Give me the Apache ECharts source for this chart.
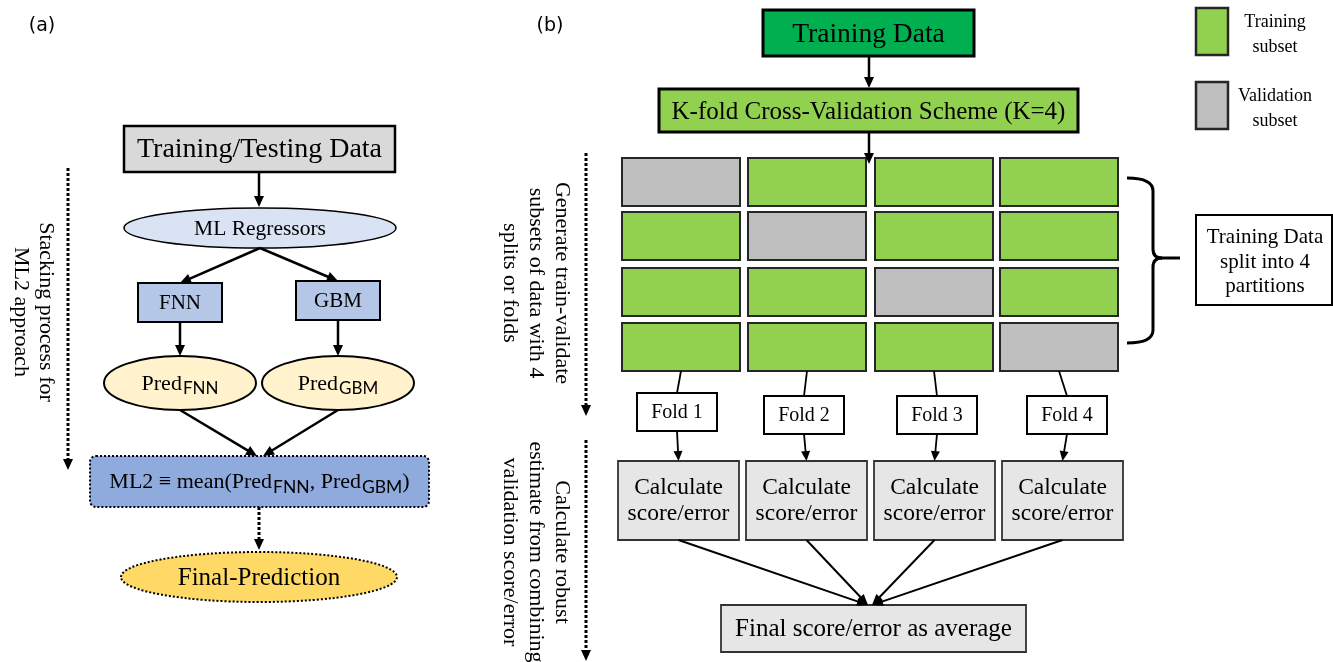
<!DOCTYPE html>
<html><head><meta charset="utf-8">
<script src="https://cdn.jsdelivr.net/npm/echarts@6/dist/echarts.min.js"></script>
<style>html,body{margin:0;padding:0;background:#fff}#c{width:1333px;height:662px}</style>
</head><body><div id="c"></div><script>
// ---------- diagram content ----------
const panelLabels = ['(a)', '(b)'];
const stackTitle = 'Training/Testing Data';
const regressorLabel = 'ML Regressors';
const models = ['FNN', 'GBM'];
const predBase = 'Pred';
const ensembleParts = ['ML2 \u2261 mean(', ', ', ')'];
const finalLabel = 'Final-Prediction';
const stackSideNote = 'Stacking process for\nML2 approach';

const trainLabel = 'Training Data';
const kfoldLabel = 'K-fold Cross-Validation Scheme (K=4)';
const folds = ['Fold 1', 'Fold 2', 'Fold 3', 'Fold 4'];
const validationCol = [0, 1, 2, 3];          // validation cell in each split row
const calcLabel = 'Calculate\nscore/error';
const averageLabel = 'Final score/error as average';
const legendLabels = ['Training\nsubset', 'Validation\nsubset'];
const partitionNote = 'Training Data\nsplit into 4\npartitions';
const sideNotes = ['Generate train-validate\nsubsets of data with 4\nsplits or folds',
                   'Calculate robust\nestimate from combining\nvalidation score/error'];

// ---------- styling / layout helpers ----------
const SERIF = '"Liberation Serif", "Times New Roman", "DejaVu Serif", serif';
const SANS = '"DejaVu Sans", "Noto Sans", sans-serif';
const SUB = 'Lato, "Noto Sans", sans-serif';
const C = {
  gray: '#d9d9d9', lightBlue: '#dae3f3', midBlue: '#b4c7e7', yellowL: '#fff2cc',
  blue: '#8faadc', gold: '#ffd966', darkGreen: '#00b050', green: '#92d050',
  valid: '#bfbfbf', calc: '#e7e6e6'
};
const els = [];
function rect(x, y, w, h, fill, o = {}) {
  els.push({ type: 'rect', z: o.z || 1, shape: { x, y, width: w, height: h, r: o.r || 0 },
    style: { fill, stroke: o.stroke || '#000', lineWidth: o.lw == null ? 2 : o.lw, lineDash: o.dash || null } });
}
function ellipse(cx, cy, rx, ry, fill, o = {}) {
  els.push({ type: 'ellipse', z: 1, shape: { cx, cy, rx, ry },
    style: { fill, stroke: o.stroke || '#000', lineWidth: o.lw == null ? 2 : o.lw, lineDash: o.dash || null } });
}
function line(x1, y1, x2, y2, o = {}) {
  els.push({ type: 'line', z: 2, shape: { x1, y1, x2, y2 },
    style: { stroke: o.stroke || '#000', lineWidth: o.lw || 2, lineDash: o.dash || null } });
}
function arrow(x1, y1, x2, y2, o = {}) {
  const L = o.head || 11, W = o.hw || 5;
  const a = Math.atan2(y2 - y1, x2 - x1);
  const bx = x2 - L * Math.cos(a), by = y2 - L * Math.sin(a);
  line(x1, y1, bx + Math.cos(a) * 2, by + Math.sin(a) * 2, o);
  const px = -Math.sin(a) * W, py = Math.cos(a) * W;
  els.push({ type: 'polygon', z: 3, shape: { points: [[x2, y2], [bx + px, by + py], [bx - px, by - py]] },
    style: { fill: '#000' } });
}
function bez(x1, y1, cx, cy, x2, y2, lw) {
  els.push({ type: 'bezierCurve', z: 2, shape: { x1, y1, x2, y2, cpx1: cx, cpy1: cy },
    style: { stroke: '#000', fill: null, lineWidth: lw } });
}
function text(x, y, str, size, o = {}) {
  const st = { text: str, fontSize: size, fontFamily: o.font || SERIF, fill: '#000',
    align: 'center', verticalAlign: 'middle', lineHeight: o.lh || Math.round(size * 1.15) };
  if (o.rich) st.rich = o.rich;
  els.push({ type: 'text', z: 5, x, y, rotation: o.rot || 0, style: st });
}
function subRich(size, subSize) {
  return {
    p: { fontSize: size, fontFamily: SERIF, lineHeight: size + 8 },
    s: { fontSize: subSize, fontFamily: SUB, lineHeight: size + 8, padding: [Math.round(size * 0.45), 0, 0, 1] }
  };
}
const DOT = [3, 2];

// ---------- panel (a) ----------
text(42, 26, panelLabels[0], 19, { font: SANS });
rect(124, 126, 271, 46, C.gray, { lw: 2.5 });
text(259.5, 150, stackTitle, 28);
arrow(259, 172, 259, 207, { lw: 2.5 });
ellipse(260, 228, 136, 20, C.lightBlue, { lw: 1.5 });
text(260, 229, regressorLabel, 21.5);
const modelX = [180, 338], modelTop = [283, 281];
models.forEach((m, i) => {
  arrow(260, 248, modelX[i], modelTop[i], { lw: 2.5 });
  rect(modelX[i] - 42, modelTop[i], 84, 39, C.midBlue, { lw: 2 });
  text(modelX[i], modelTop[i] + 20, m, 21);
  arrow(modelX[i], modelTop[i] + 39, modelX[i], 356, { lw: 2.5 });
  ellipse(modelX[i], 383, 76, 27, C.yellowL, { lw: 2 });
  text(modelX[i], 384, '{p|' + predBase + '}{s|' + m + '}', 22, { rich: subRich(22, 17) });
  arrow(modelX[i], 410, i === 0 ? 257 : 263, 456, { lw: 2.5 });
});
rect(90, 456, 339, 51, C.blue, { dash: [2, 2], lw: 2, r: 6 });
text(259.5, 482, '{p|' + ensembleParts[0] + predBase + '}{s|' + models[0] + '}{p|' + ensembleParts[1] + predBase +
  '}{s|' + models[1] + '}{p|' + ensembleParts[2] + '}', 22, { rich: subRich(22, 17.5) });
arrow(259, 507, 259, 550, { lw: 3, dash: DOT });
ellipse(259, 577, 138, 25, C.gold, { dash: [2, 2], lw: 2 });
text(259, 578, finalLabel, 25);
arrow(68, 168, 68, 470, { lw: 3, dash: DOT });
text(33, 312, stackSideNote, 22, { rot: -Math.PI / 2, lh: 25 });

// ---------- panel (b) ----------
text(550, 26, panelLabels[1], 19, { font: SANS });
rect(763, 10, 211, 46, C.darkGreen, { lw: 3 });
text(868.5, 35, trainLabel, 27.5);
arrow(869, 56, 869, 88, { lw: 2.5 });
rect(659, 89, 419, 43, C.green, { lw: 3 });
text(868.5, 112, kfoldLabel, 25);

const colX = [622, 748, 875, 1000], cellW = 118, rowY = [158, 212, 268, 323], cellH = 48;
validationCol.forEach((vc, r) => {
  colX.forEach((x, c) => {
    rect(x, rowY[r], cellW, cellH, c === vc ? C.valid : C.green, { lw: 2, stroke: '#262626' });
  });
});
arrow(869, 132, 869, 164, { lw: 2.5 });

// brace
const bx0 = 1127, bx1 = 1153, bxt = 1180, byT = 178, byB = 343, byM = 258;
bez(bx0, byT, bx1, byT, bx1, byT + 13, 3);
line(bx1, byT + 13, bx1, byM - 9, { lw: 3 });
bez(bx1, byM - 9, bx1, byM, bx1 + 9, byM, 3);
line(bx1 + 8, byM, bxt, byM, { lw: 3 });
bez(bx1 + 9, byM, bx1, byM, bx1, byM + 9, 3);
line(bx1, byM + 9, bx1, byB - 13, { lw: 3 });
bez(bx1, byB - 13, bx1, byB, bx0, byB, 3);

rect(1196, 215, 136, 90, '#fff', { lw: 2 });
text(1265, 262, partitionNote, 21, { lh: 24.5 });

// legend
const legFill = [C.green, C.valid], legY = [8, 82];
legendLabels.forEach((l, i) => {
  rect(1196, legY[i], 32, 47, legFill[i], { lw: 2.5, stroke: '#262626' });
  text(1275, legY[i] + 27, l, 18, { lh: 25 });
});

// folds
const foldX = [677, 804, 937, 1067], foldTop = [393, 396, 396, 396];
const calcX = [618, 746, 874, 1002], calcW = 121, calcTop = 461, calcH = 79;
folds.forEach((f, i) => {
  line(colX[i] + cellW / 2, rowY[3] + cellH, foldX[i], foldTop[i], { lw: 1.8 });
  rect(foldX[i] - 40, foldTop[i], 80, 38, '#fff', { lw: 2 });
  text(foldX[i], foldTop[i] + 20, f, 20);
  const cx = calcX[i] + calcW / 2;
  arrow(foldX[i], foldTop[i] + 38, cx, calcTop, { lw: 1.8, head: 10, hw: 4.5 });
  rect(calcX[i], calcTop, calcW, calcH, C.calc, { lw: 1.8, stroke: '#333' });
  text(cx, calcTop + 40, calcLabel, 23.5, { lh: 26 });
  arrow(cx, calcTop + calcH, i < 2 ? 868 : 872, 605, { lw: 2, head: 11, hw: 4.5 });
});
rect(721, 605, 305, 47, C.calc, { lw: 1.8, stroke: '#333' });
text(873.5, 629, averageLabel, 25);

arrow(586, 153, 586, 416, { lw: 3, dash: DOT });
arrow(586, 440, 586, 661, { lw: 3, dash: DOT });
text(536, 283, sideNotes[0], 22, { rot: -Math.PI / 2, lh: 26 });
text(536, 552, sideNotes[1], 22, { rot: -Math.PI / 2, lh: 26 });

const chart = echarts.init(document.getElementById('c'), null, { renderer: 'canvas' });
chart.setOption({ backgroundColor: '#fff', animation: false, graphic: { elements: els } });
</script></body></html>
